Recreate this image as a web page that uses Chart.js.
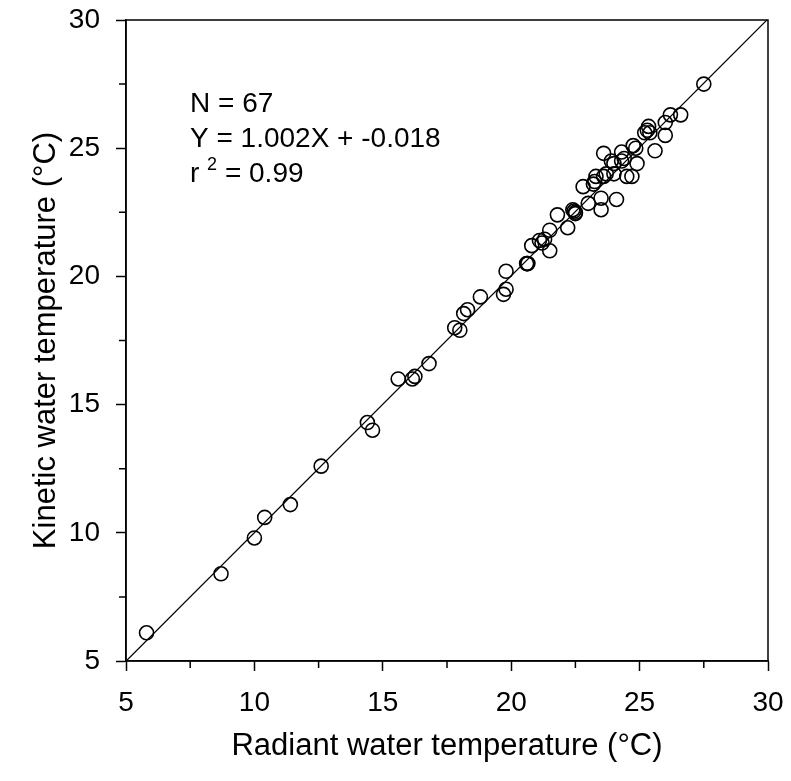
<!DOCTYPE html>
<html>
<head>
<meta charset="utf-8">
<script src="https://cdn.jsdelivr.net/npm/chart.js@4.4.1/dist/chart.umd.min.js"></script>
<style>
  body { margin: 0; background: #fff; }
</style>
</head>
<body>
<canvas id="scatter" width="791" height="781"></canvas>
<script>
// radiant (x) vs kinetic (y) water temperature, degrees C
var radiant = [
  5.8, 8.7, 10.0, 10.4, 11.4, 12.6, 14.4, 14.6, 15.6, 16.15,
  16.25, 16.8, 17.8, 18.0, 18.15, 18.3, 18.8, 19.7, 19.8, 19.8,
  20.6, 20.65, 20.8, 21.1, 21.3, 21.5, 21.5, 21.8, 22.2, 22.4,
  22.5, 22.5, 22.8, 23.0, 23.2, 23.3, 23.5, 23.5, 23.6, 23.7,
  23.9, 24.0, 24.1, 24.3, 24.3, 24.5, 24.7, 24.75, 24.9, 25.2,
  25.35, 25.4, 25.6, 26.0, 26.0, 26.2, 26.6, 27.5, 20.62, 22.45,
  23.25, 24.0, 24.4, 25.3, 21.2, 23.6, 24.85
];
var kinetic = [
  6.1, 8.4, 9.8, 10.6, 11.1, 12.6, 14.3, 14.0, 16.0, 16.0,
  16.1, 16.6, 18.0, 17.9, 18.55, 18.7, 19.2, 19.3, 19.5, 20.2,
  20.5, 20.5, 21.2, 21.4, 21.45, 21.8, 21.0, 22.4, 21.9, 22.6,
  22.5, 22.45, 23.5, 22.85, 23.6, 23.9, 23.05, 22.6, 24.8, 24.0,
  24.5, 24.0, 23.0, 24.85, 24.5, 23.9, 23.9, 25.1, 24.4, 25.6,
  25.85, 25.6, 24.9, 26.0, 25.5, 26.3, 26.3, 27.5, 20.5, 22.55,
  23.7, 24.4, 24.6, 25.7, 21.3, 23.9, 25.0
];

var slope = 1.002;
var intercept = -0.018;
var fitX = [5, 30];
var statLines = ["N = 67", "Y = 1.002X + -0.018"];
var rsqText = "0.99";

var FONT = '"Liberation Sans", Arial, sans-serif';

var points = radiant.map(function (x, i) { return { x: x, y: kinetic[i] }; });
var fitLine = fitX.map(function (x) { return { x: x, y: slope * x + intercept }; });

// box around plot + shorter minor ticks + the stats text
var extras = {
  id: "extras",
  afterDraw: function (chart) {
    var c = chart.ctx, a = chart.chartArea;
    var xs = chart.scales.x, ys = chart.scales.y;
    c.save();
    c.strokeStyle = "#000";
    c.lineWidth = 1.5;
    c.strokeRect(a.left, a.top, a.right - a.left, a.bottom - a.top);
    c.beginPath();
    for (var v = 7.5; v < 30; v += 5) {
      var px = xs.getPixelForValue(v);
      c.moveTo(px, a.bottom);
      c.lineTo(px, a.bottom + 7);
      var py = ys.getPixelForValue(v);
      c.moveTo(a.left, py);
      c.lineTo(a.left - 7, py);
    }
    c.stroke();

    c.fillStyle = "#000";
    c.font = "28px " + FONT;
    c.textBaseline = "alphabetic";
    var tx = a.left + 64, ty = a.top + 92;
    c.fillText(statLines[0], tx, ty);
    c.fillText(statLines[1], tx, ty + 35);
    c.fillText("r", tx, ty + 70);
    var w = c.measureText("r ").width;
    c.font = "18px " + FONT;
    c.fillText("2", tx + w, ty + 58);
    var w2 = c.measureText("2").width;
    c.font = "28px " + FONT;
    c.fillText(" = " + rsqText, tx + w + w2, ty + 70);
    c.restore();
  }
};

new Chart(document.getElementById("scatter"), {
  type: "scatter",
  data: {
    datasets: [
      {
        label: "fit",
        type: "line",
        data: fitLine,
        borderColor: "#000",
        borderWidth: 1.2,
        pointRadius: 0,
        fill: false
      },
      {
        label: "obs",
        data: points,
        pointRadius: 7,
        pointBorderWidth: 1.6,
        borderColor: "#000",
        backgroundColor: "rgba(0,0,0,0)"
      }
    ]
  },
  options: {
    responsive: false,
    animation: false,
    layout: { padding: { top: 20, right: 23, left: 24, bottom: 0 } },
    plugins: { legend: { display: false }, tooltip: { enabled: false } },
    scales: {
      x: {
        type: "linear",
        min: 5,
        max: 30,
        afterFit: function (s) { s.height = 120; s.paddingLeft = 0; s.paddingRight = 0; },
        ticks: { stepSize: 5, color: "#000", padding: 15, font: { family: FONT, size: 28 } },
        grid: { drawOnChartArea: false, tickLength: 10, tickColor: "#000", tickWidth: 1.5 },
        border: { color: "#000", width: 1.5 },
        title: {
          display: true,
          text: "Radiant water temperature (°C)",
          color: "#000",
          padding: { top: 4, bottom: 16 },
          font: { family: FONT, size: 31 }
        }
      },
      y: {
        type: "linear",
        min: 5,
        max: 30,
        afterFit: function (s) { s.width = 102; s.paddingTop = 0; s.paddingBottom = 0; },
        ticks: { stepSize: 5, color: "#000", padding: 16, font: { family: FONT, size: 28 } },
        grid: { drawOnChartArea: false, tickLength: 10, tickColor: "#000", tickWidth: 1.5 },
        border: { color: "#000", width: 1.5 },
        title: {
          display: true,
          text: "Kinetic water temperature (°C)",
          color: "#000",
          padding: { top: 4, bottom: 4 },
          font: { family: FONT, size: 31 }
        }
      }
    }
  },
  plugins: [extras]
});
</script>
</body>
</html>
